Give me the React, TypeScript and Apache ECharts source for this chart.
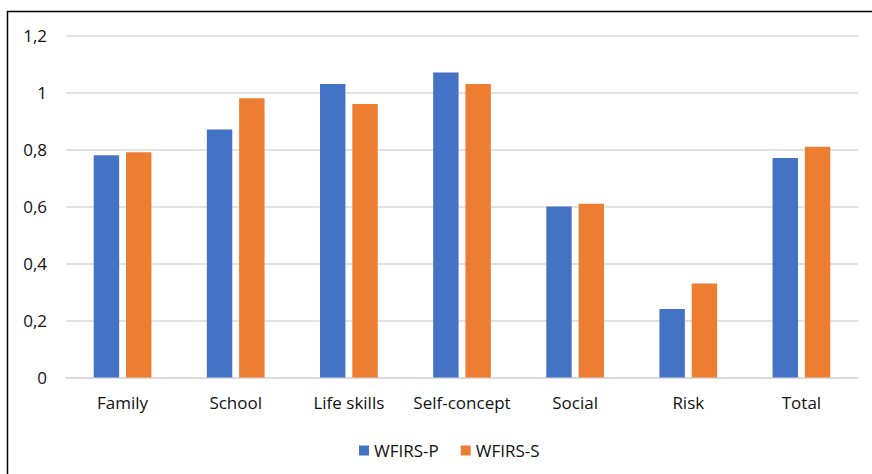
import React, { useEffect, useRef } from "react";
import * as echarts from "echarts";

const categories = ["Family", "School", "Life skills", "Self-concept", "Social", "Risk", "Total"];
const wfirsP = [0.78, 0.87, 1.03, 1.07, 0.6, 0.24, 0.77];
const wfirsS = [0.79, 0.98, 0.96, 1.03, 0.61, 0.33, 0.81];
const seriesNames = ["WFIRS-P", "WFIRS-S"];

export default function App() {
  const ref = useRef<HTMLDivElement>(null);
  useEffect(() => {
    if (!ref.current) return;
    const chart = echarts.init(ref.current, null, { renderer: "svg" });
    const font = "Open Sans";
    chart.setOption({
      animation: false,
      backgroundColor: "#ffffff",
      textStyle: { fontFamily: font },
      graphic: [
        {
          type: "rect",
          shape: { x: 7.5, y: 11.5, width: 900, height: 500 },
          style: { fill: "none", stroke: "#000000", lineWidth: 1.5 },
          silent: true,
        },
      ],
      legend: {
        data: seriesNames,
        left: 354,
        top: 437,
        icon: "rect",
        itemWidth: 10,
        itemHeight: 10,
        itemGap: 22,
        textStyle: { fontFamily: font, fontSize: 17, color: "#111" },
      },
      grid: { left: 66, right: 14, top: 35.5, bottom: 96.5, containLabel: false },
      xAxis: {
        type: "category",
        data: categories,
        axisLine: { show: true, lineStyle: { color: "#d9d9d9", width: 1.5 } },
        axisTick: { show: false },
        axisLabel: { interval: 0, fontFamily: font, fontSize: 17, color: "#111", margin: 16 },
      },
      yAxis: {
        type: "value",
        min: 0,
        max: 1.2,
        interval: 0.2,
        axisLine: { show: false },
        axisTick: { show: false },
        splitLine: { lineStyle: { color: "#d9d9d9", width: 1.5 } },
        axisLabel: {
          fontFamily: font,
          fontSize: 17,
          color: "#111",
          margin: 19,
          formatter: (v: number) => (Math.round(v * 10) / 10).toString().replace(".", ","),
        },
      },
      series: [
        {
          name: seriesNames[0],
          type: "bar",
          data: wfirsP,
          barGap: "27%",
          barCategoryGap: "49%",
          itemStyle: { color: "#4472c4" },
        },
        {
          name: seriesNames[1],
          type: "bar",
          data: wfirsS,
          itemStyle: { color: "#ed7d31" },
        },
      ],
    });
    return () => chart.dispose();
  }, []);
  return (
    <div
      ref={ref}
      style={{ position: "absolute", left: 0, top: 0, width: 872, height: 474 }}
    />
  );
}
